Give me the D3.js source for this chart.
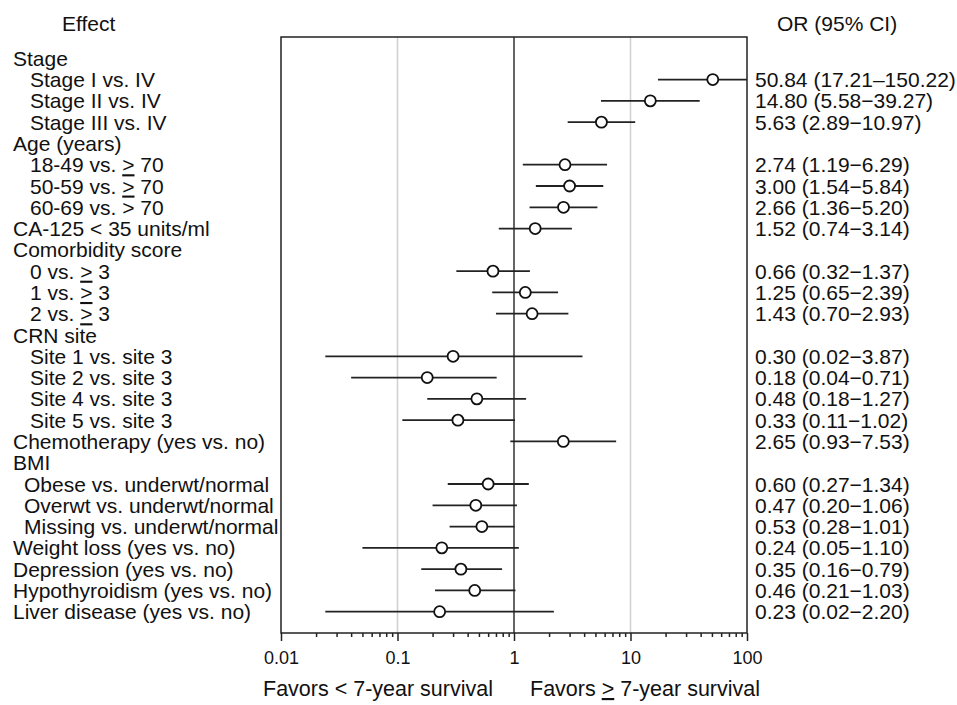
<!DOCTYPE html>
<html>
<head>
<meta charset="utf-8">
<script src="https://cdn.jsdelivr.net/npm/d3@7"></script>
<style>
  body { margin: 0; background: #fff; }
  text { font-family: "Liberation Sans", Arial, sans-serif; fill: #111; }
</style>
</head>
<body>
<svg id="chart" width="957" height="705"></svg>
<script>
// forest plot data, one entry per row (headers have null values)
let labels = [
  "Stage", "Stage I vs. IV", "Stage II vs. IV", "Stage III vs. IV",
  "Age (years)", "18-49 vs. \u2265 70", "50-59 vs. \u2265 70", "60-69 vs. > 70",
  "CA-125 < 35 units/ml",
  "Comorbidity score", "0 vs. \u2265 3", "1 vs. \u2265 3", "2 vs. \u2265 3",
  "CRN site", "Site 1 vs. site 3", "Site 2 vs. site 3", "Site 4 vs. site 3", "Site 5 vs. site 3",
  "Chemotherapy (yes vs. no)",
  "BMI", "Obese vs. underwt/normal", "Overwt vs. underwt/normal", "Missing vs. underwt/normal",
  "Weight loss (yes vs. no)", "Depression (yes vs. no)", "Hypothyroidism (yes vs. no)", "Liver disease (yes vs. no)"
]
// 0 = group heading, 1 = sub row, 2 = sub row of BMI
let indent = [0,1,1,1, 0,1,1,1, 0, 0,1,1,1, 0,1,1,1,1, 0, 0,2,2,2, 0,0,0,0]
let or = [null,50.84,14.80,5.63, null,2.74,3.00,2.66, 1.52, null,0.66,1.25,1.43,
  null,0.30,0.18,0.48,0.33, 2.65, null,0.60,0.47,0.53, 0.24,0.35,0.46,0.23]
let lo = [null,17.21,5.58,2.89, null,1.19,1.54,1.36, 0.74, null,0.32,0.65,0.70,
  null,0.02,0.04,0.18,0.11, 0.93, null,0.27,0.20,0.28, 0.05,0.16,0.21,0.02]
let hi = [null,150.22,39.27,10.97, null,6.29,5.84,5.20, 3.14, null,1.37,2.39,2.93,
  null,3.87,0.71,1.27,1.02, 7.53, null,1.34,1.06,1.01, 1.10,0.79,1.03,2.20]
// lower CI bounds that were drawn from unrounded values
let loDraw = lo.slice()
loDraw[14] = 0.024
loDraw[26] = 0.024
let tickValues = [0.01, 0.1, 1, 10, 100]

let svg = d3.select("#chart")

let x = d3.scaleLog().domain([0.01, 100]).range([281, 747])
let y = d3.scaleLinear().domain([-1, 27]).range([37, 633])

let rows = labels.map(function (l, i) {
  return { label: l, indent: indent[i], or: or[i], lo: loDraw[i], hi: hi[i], loTxt: lo[i], i: i }
})

// grid lines
svg.selectAll(".grid")
  .data([0.1, 10])
  .enter()
  .append("line")
  .attr("x1", d => x(d)).attr("x2", d => x(d))
  .attr("y1", y(-1)).attr("y2", y(27))
  .attr("stroke", "#d0d0d0")
  .attr("stroke-width", 1.5)

svg.append("line")
  .attr("x1", x(1)).attr("x2", x(1))
  .attr("y1", y(-1)).attr("y2", y(27))
  .attr("stroke", "#4a4a4a")
  .attr("stroke-width", 1.7)

// axis with minor ticks
let minor = []
for (let e = -2; e < 2; e++) {
  for (let m = 2; m <= 9; m++) minor.push(m * Math.pow(10, e))
}
svg.append("g")
  .attr("transform", "translate(0," + y(27) + ")")
  .call(d3.axisBottom(x).tickValues(minor).tickSize(4).tickFormat(""))
  .call(g => g.select(".domain").remove())
  .selectAll("line").attr("stroke", "#222").attr("stroke-width", 1.5)

let axis = svg.append("g")
  .attr("transform", "translate(0," + y(27) + ")")
  .call(d3.axisBottom(x).tickValues(tickValues).tickSize(8).tickPadding(10)
    .tickFormat(d => d3.format("")(d)))
axis.select(".domain").remove()
axis.selectAll("line").attr("stroke", "#222").attr("stroke-width", 1.5)
axis.selectAll("text")
  .style("font-family", "'Liberation Sans', Arial, sans-serif")
  .style("font-size", "18px")
  .attr("fill", "#111")

// plot box
svg.append("rect")
  .attr("x", x(0.01)).attr("y", y(-1))
  .attr("width", x(100) - x(0.01)).attr("height", y(27) - y(-1))
  .attr("fill", "none")
  .attr("stroke", "#222")
  .attr("stroke-width", 1.5)

// confidence intervals and point estimates
let est = rows.filter(d => d.or !== null)

svg.selectAll(".ci")
  .data(est)
  .enter()
  .append("line")
  .attr("x1", d => x(Math.max(d.lo, 0.01)))
  .attr("x2", d => x(Math.min(d.hi, 100)))
  .attr("y1", d => y(d.i)).attr("y2", d => y(d.i))
  .attr("stroke", "#222")
  .attr("stroke-width", 1.8)

svg.selectAll(".pt")
  .data(est)
  .enter()
  .append("circle")
  .attr("cx", d => x(d.or))
  .attr("cy", d => y(d.i))
  .attr("r", 5.5)
  .attr("fill", "#fff")
  .attr("stroke", "#111")
  .attr("stroke-width", 1.8)

// writes a label, showing >= as an underlined >
function addLabel(sel, str) {
  let parts = str.split("\u2265")
  parts.forEach(function (p, k) {
    if (k > 0) sel.append("tspan").text(">").style("text-decoration", "underline")
    sel.append("tspan").text(p)
  })
}

// row labels
svg.selectAll(".lab")
  .data(rows)
  .enter()
  .append("text")
  .attr("x", d => d.indent === 0 ? 13 : d.indent === 1 ? 30 : 24)
  .attr("y", d => y(d.i))
  .attr("dy", "0.36em")
  .style("font-size", "21px")
  .each(function (d) { addLabel(d3.select(this), d.label) })

// OR (95% CI) column
let f = d3.format(".2f")
svg.selectAll(".ortxt")
  .data(est)
  .enter()
  .append("text")
  .attr("x", 755)
  .attr("y", d => y(d.i))
  .attr("dy", "0.36em")
  .style("font-size", "21px")
  .text(d => f(d.or) + " (" + f(d.loTxt) + (d.i === 1 ? "\u2013" : "\u2212") + f(d.hi) + ")")

// headers
svg.append("text").attr("x", 62).attr("y", 30.5).style("font-size", "21px").text("Effect")
svg.append("text").attr("x", 777).attr("y", 31).style("font-size", "21px").text("OR (95% CI)")

// favours labels
svg.append("text").attr("x", 263).attr("y", 696).style("font-size", "21.5px")
  .text("Favors < 7-year survival")
let fav = svg.append("text").attr("x", 530).attr("y", 696).style("font-size", "21.5px")
addLabel(fav, "Favors \u2265 7-year survival")
</script>
</body>
</html>
